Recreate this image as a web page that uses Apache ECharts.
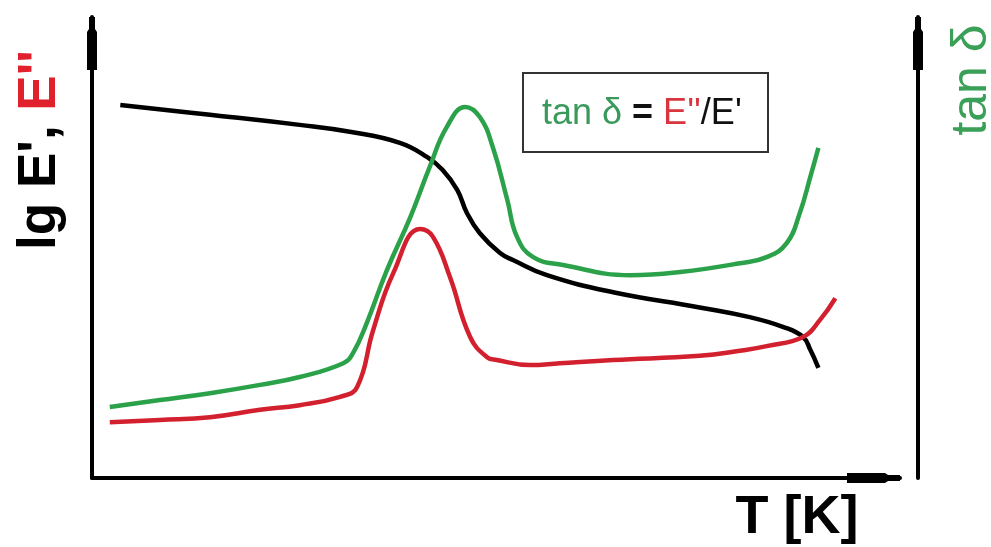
<!DOCTYPE html>
<html>
<head>
<meta charset="utf-8">
<script src="https://cdn.jsdelivr.net/npm/echarts@6/dist/echarts.min.js"></script>
<style>html,body{margin:0;padding:0;background:#fff}#c{width:991px;height:547px}</style>
</head>
<body>
<div id="c"></div>
<script>
// Schematic DMA curves, arbitrary units: [T, value]
const storageModulus = [[3.5,80.9],[14.6,78.8],[25.7,76.6],[31.9,75.1],[38.1,72.7],[41.5,69.6],[43.4,66.8],[45.2,62.5],[46.4,57.5],[48.0,53.1],[50.5,48.8],[52.1,47.3],[56.3,44.0],[64.5,40.3],[75.2,37.0],[81.4,34.9],[85.5,32.8],[88.0,30.6],[88.9,27.8],[89.9,23.9]];
const lossModulus = [[2.2,12.1],[8.4,12.6],[14.6,13.2],[20.8,14.8],[25.7,15.8],[30.7,17.6],[32.8,19.7],[34.8,32.1],[37.3,44.5],[40.6,54.0],[42.2,52.3],[44.3,43.6],[46.8,30.6],[48.9,26.2],[50.1,25.6],[54.2,24.5],[57.9,24.9],[64.5,25.6],[75.2,26.5],[80.2,27.6],[83.5,28.6],[88.0,30.6],[90.1,34.3],[92.0,39.0]];
const tanDelta = [[2.2,15.4],[8.4,16.9],[14.6,18.4],[20.8,20.2],[25.7,21.9],[31.1,24.9],[32.3,27.1],[34.0,33.6],[36.5,45.1],[39.4,56.6],[41.8,67.5],[43.9,76.1],[46.2,80.5],[48.0,78.3],[49.6,71.8],[51.4,60.3],[52.6,52.3],[54.6,47.9],[58.3,46.2],[66.6,44.0],[72.8,44.7],[80.2,46.6],[83.5,47.9],[86.0,51.0],[87.6,57.5],[88.9,65.3],[89.9,71.6]];
const xLabel = 'T [K]';
const leftLabelParts = ["lg E', ", "E''"];
const rightLabel = 'tan δ';
const formulaParts = ['tan δ ', '= ', "E''", "/E'"];

const GREEN = '#2ba24a', RED = '#d3202f', BLACK = '#000';
const ARROW = 'path://M2,0 L8,0 L8,12 L10,15 L10,53 L0,53 L0,15 L2,12 Z';
const axisLine = {show:true, symbol:['none', ARROW], symbolSize:[10,53], symbolOffset:[0,-26.5], lineStyle:{color:'#000', width:4}};
const chart = echarts.init(document.getElementById('c'), null, {renderer:'canvas'});
chart.setOption({
  animation:false,
  backgroundColor:'#fff',
  grid:{left:92, right:91, top:17, bottom:69},
  xAxis:{type:'value', min:0, max:100, axisLine:axisLine, axisTick:{show:false}, axisLabel:{show:false}, splitLine:{show:false}},
  yAxis:[
    {type:'value', min:0, max:100, position:'left', axisLine:axisLine, axisTick:{show:false}, axisLabel:{show:false}, splitLine:{show:false}},
    {type:'value', min:0, max:100, position:'right', offset:18, axisLine:axisLine, axisTick:{show:false}, axisLabel:{show:false}, splitLine:{show:false}}
  ],
  series:[
    {type:'line', data:storageModulus, yAxisIndex:0, smooth:0.45, showSymbol:false, lineStyle:{color:BLACK, width:4.5}},
    {type:'line', data:lossModulus, yAxisIndex:0, smooth:0.45, showSymbol:false, lineStyle:{color:RED, width:4.5}},
    {type:'line', data:tanDelta, yAxisIndex:1, smooth:0.45, showSymbol:false, lineStyle:{color:GREEN, width:4.5}}
  ],
  graphic:[
    {type:'text', x:40, y:150, rotation:Math.PI/2, style:{text:'{k|'+leftLabelParts[0]+'}{r|'+leftLabelParts[1]+'}', align:'center', verticalAlign:'middle', rich:{k:{fill:'#000', fontFamily:'Liberation Sans, Arial', fontWeight:'bold', fontSize:53}, r:{fill:'#e0202a', fontFamily:'Liberation Sans, Arial', fontWeight:'bold', fontSize:53}}}},
    {type:'text', x:972, y:80, rotation:Math.PI/2, style:{text:rightLabel, fill:'#3aa057', fontFamily:'Liberation Sans, Arial', fontSize:50, align:'center', verticalAlign:'middle'}},
    {type:'text', x:797, y:518, style:{text:xLabel, fill:'#000', fontFamily:'Liberation Sans, Arial', fontWeight:'bold', fontSize:54, align:'center', verticalAlign:'middle'}},
    {type:'rect', shape:{x:523, y:73, width:245, height:79}, style:{fill:'#fff', stroke:'#333', lineWidth:2}},
    {type:'text', x:542, y:114, style:{text:'{g|'+formulaParts[0]+'}{b|'+formulaParts[1]+'}{r|'+formulaParts[2]+'}{k|'+formulaParts[3]+'}', align:'left', verticalAlign:'middle', rich:{g:{fill:'#3a9a5c', fontFamily:'Liberation Sans, Arial', fontSize:36}, b:{fill:'#111', fontFamily:'Liberation Sans, Arial', fontWeight:'bold', fontSize:36}, k:{fill:'#111', fontFamily:'Liberation Sans, Arial', fontSize:36}, r:{fill:'#d9353f', fontFamily:'Liberation Sans, Arial', fontSize:36}}}}
  ]
});
</script>
</body>
</html>
